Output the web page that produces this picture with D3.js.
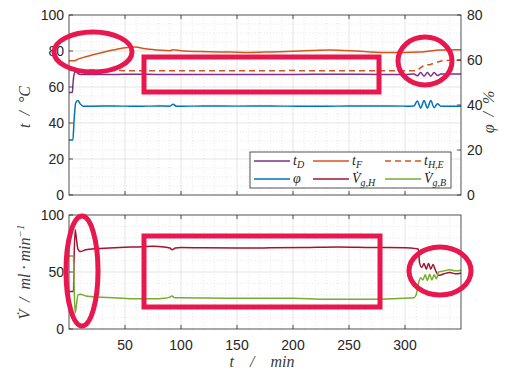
<!DOCTYPE html>
<html><head><meta charset="utf-8">
<script src="https://cdn.jsdelivr.net/npm/d3@7"></script>
<style>body{margin:0;background:#fff}svg{display:block}</style>
</head><body>
<script>
// ---- data ----
const xTicks = [50,100,150,200,250,300];
const yTopLeftTicks = [0,20,40,60,80,100];
const yTopRightTicks = [0,20,40,60,80];
const yBotTicks = [0,50,100];

const tD_t = [0,3,3.6,4.5,6,8,10,20,40,60,80,100,130,160,200,240,280,300,308,311,314,317,320,323,326,329,332,340,350];
const tD_v = [57,57,62,67,68.5,67.5,67,67,67,67.1,67,67,66.9,67,67,67.1,67,67,67.2,66.2,68,66,68,66,68,66.4,67.2,67.2,67.2];

const tF_t = [0,5,8,15,28,39,50,59,68,80,90,93,100,117,144,161,180,200,233,260,286,313,322,330,340,350];
const tF_v = [74.6,74.6,75.5,76.8,78.9,80.5,81.8,82.2,81.2,80.5,80.1,80.7,80.2,79.7,79.4,79.2,79.5,79.9,80.5,79.8,79.1,79.4,80,80.5,80.6,80.7];

const tHE_t = [0,10,30,60,100,150,200,250,300,310,314,318,322,326,330,334,340,350];
const tHE_v = [69.5,69.5,69.3,69,69,69,69.1,69,69,69,70.8,72.2,72.4,73.2,74,74.6,74.8,74.8];

const phi_t = [0,3.5,4.5,6,8,10,13,20,40,60,80,90,93,96,120,150,180,210,240,270,300,308,311,314,317,320,323,326,329,332,340,350];
const phi_v = [24.4,24.4,33,41,42,40.5,39.5,39.5,39.6,39.4,39.6,39.5,40.3,39.4,39.6,39.5,39.6,39.4,39.5,39.6,39.5,39.6,41.8,38.6,42,38.6,42,38.8,40.6,39.5,39.5,39.5];

const vH_t = [0,4,4.5,5.5,6.5,8,10,15,25,45,60,75,85,90,92,95,100,120,150,180,210,240,270,300,310,312,313,315,317,319,321,323,325,327,330,335,340,345,350];
const vH_v = [33,33,60,87,80,70,68,69.5,70.5,71.5,72,72.5,72,71,69.5,71,71.5,71.2,71,71.2,71.5,72,71.5,71.3,70.5,70,58,54,57.5,52.5,57.5,52.5,56.5,52,47,48.5,49.5,48.5,49];

const vB_t = [0,4,4.5,5.5,6.5,8,10,15,25,40,60,75,85,90,92,94,100,150,200,230,260,290,300,308,310,312,314,316,318,320,322,324,326,328,330,335,340,345,350];
const vB_v = [64,64,40,14,20,30,30.5,29,28,27.5,26.5,26.5,27,28,29,27.5,27.5,27,27,26,26,26.5,27,27.5,30,40,45,43,47.5,42.5,48,43,47.5,44,50,51,52,51,51.5];

const legendLabels = [["t","D"],["t","F"],["t","H,E"],["φ",""],["V̇","g,H"],["V̇","g,B"]];

// ---- drawing ----
const W=505,H=376;
const svg=d3.select("body").append("svg").attr("width",W).attr("height",H);
const x=d3.scaleLinear([0,350],[69,461]);
const yL=d3.scaleLinear([0,100],[195,15]);
const yR=d3.scaleLinear([0,80],[195,15]);
const yB=d3.scaleLinear([0,100],[329,215]);
const gridC="#dedede", axC="#262626";
const tickFont="'Liberation Sans', Arial, sans-serif";
const serif="'Liberation Serif','Times New Roman',serif";

function panel(yS, yMajor, yMinorStep, yMax){
  const g=svg.append("g");
  const [y0,y1]=yS.range();
  for(let v=10; v<350; v+=10){ if(v%50) g.append("line").attr("x1",x(v)).attr("x2",x(v)).attr("y1",y0).attr("y2",y1).attr("stroke","#e2e2e2").attr("stroke-dasharray","1,2").attr("stroke-width",0.8);}
  for(let v=yMinorStep; v<yMax; v+=yMinorStep){ if(!yMajor.includes(v)) g.append("line").attr("x1",69).attr("x2",461).attr("y1",yS(v)).attr("y2",yS(v)).attr("stroke","#e2e2e2").attr("stroke-dasharray","1,2").attr("stroke-width",0.8);}
  xTicks.forEach(v=>g.append("line").attr("x1",x(v)).attr("x2",x(v)).attr("y1",y0).attr("y2",y1).attr("stroke",gridC).attr("stroke-width",0.8));
  yMajor.forEach(v=>{ if(v>0&&v<yMax) g.append("line").attr("x1",69).attr("x2",461).attr("y1",yS(v)).attr("y2",yS(v)).attr("stroke",gridC).attr("stroke-width",0.8);});
  return g;
}
panel(yL,yTopLeftTicks,5,100);
panel(yB,yBotTicks,10,100);

function axesFrame(yS){
  const [y0,y1]=yS.range();
  svg.append("rect").attr("x",69).attr("y",y1).attr("width",392).attr("height",y0-y1).attr("fill","none").attr("stroke",axC).attr("stroke-width",0.8);
  xTicks.forEach(v=>{
    svg.append("line").attr("x1",x(v)).attr("x2",x(v)).attr("y1",y0).attr("y2",y0-4).attr("stroke",axC).attr("stroke-width",0.8);
    svg.append("line").attr("x1",x(v)).attr("x2",x(v)).attr("y1",y1).attr("y2",y1+4).attr("stroke",axC).attr("stroke-width",0.8);
  });
}

const line=(ys)=>d3.line().x(d=>x(d[0])).y(d=>ys(d[1])).curve(d3.curveMonotoneX);
const zip=(a,b)=>a.map((t,i)=>[t,b[i]]);
const cPurple="#7E2F8E", cOrange="#D95319", cBlue="#0072BD", cRed="#A2142F", cGreen="#77AC30";

svg.append("path").datum(zip(phi_t,phi_v)).attr("d",line(yR)).attr("fill","none").attr("stroke",cBlue).attr("stroke-width",1.5);
svg.append("path").datum(zip(tD_t,tD_v)).attr("d",line(yL)).attr("fill","none").attr("stroke",cPurple).attr("stroke-width",1.5);
svg.append("path").datum(zip(tF_t,tF_v)).attr("d",line(yL)).attr("fill","none").attr("stroke",cOrange).attr("stroke-width",1.5);
svg.append("path").datum(zip(tHE_t,tHE_v)).attr("d",line(yL)).attr("fill","none").attr("stroke",cOrange).attr("stroke-width",1.5).attr("stroke-dasharray","6,4");
svg.append("path").datum(zip(vH_t,vH_v)).attr("d",line(yB)).attr("fill","none").attr("stroke",cRed).attr("stroke-width",1.5);
svg.append("path").datum(zip(vB_t,vB_v)).attr("d",line(yB)).attr("fill","none").attr("stroke",cGreen).attr("stroke-width",1.5);

axesFrame(yL); axesFrame(yB);

function yTicksDraw(ys, ticks, side){
  ticks.forEach(v=>{
    const xx= side==="L"?69:461, d= side==="L"?4:-4;
    svg.append("line").attr("x1",xx).attr("x2",xx+d).attr("y1",ys(v)).attr("y2",ys(v)).attr("stroke",axC).attr("stroke-width",0.8);
    svg.append("text").attr("x",side==="L"?64:467).attr("y",ys(v)).attr("dy","0.36em")
      .attr("text-anchor",side==="L"?"end":"start").attr("font-family",tickFont).attr("font-size",14).attr("fill",axC).text(v);
  });
}
yTicksDraw(yL,yTopLeftTicks,"L");
yTicksDraw(yR,yTopRightTicks,"R");
yTicksDraw(yB,yBotTicks,"L");
xTicks.forEach(v=>svg.append("text").attr("x",x(v)).attr("y",350).attr("text-anchor","middle").attr("font-family",tickFont).attr("font-size",14).attr("fill",axC).text(v));

function rotLabel(cx,cy,build){
  const t=svg.append("text").attr("transform",`translate(${cx},${cy}) rotate(-90)`).attr("text-anchor","middle")
    .attr("font-family",serif).attr("font-style","italic").attr("font-size",16).attr("fill","#3a3a3a").attr("xml:space","preserve");
  build(t);
}
rotLabel(30,107,t=>t.text("t  /  °C"));
rotLabel(494,112,t=>t.text("φ  /  %"));
rotLabel(30,272,t=>{t.append("tspan").text("V̇  /  ml · min"); t.append("tspan").attr("dy",-6).attr("font-size",11).text("−1");});
svg.append("text").attr("x",262).attr("y",367).attr("text-anchor","middle").attr("font-family",serif).attr("font-style","italic").attr("font-size",16).attr("fill","#3a3a3a").attr("xml:space","preserve").text("t    /    min");

const lg=svg.append("g");
lg.append("rect").attr("x",250).attr("y",152).attr("width",201).attr("height",36).attr("fill","#fff").attr("stroke",axC).attr("stroke-width",0.8);
const legStyles=[[cPurple,null],[cOrange,null],[cOrange,"6,4"],[cBlue,null],[cRed,null],[cGreen,null]];
const colX=[254,313,385], rowY=[161,179];
legendLabels.forEach((lab,i)=>{
  const cx=colX[i%3], cy=rowY[Math.floor(i/3)];
  lg.append("line").attr("x1",cx).attr("x2",cx+36).attr("y1",cy).attr("y2",cy).attr("stroke",legStyles[i][0]).attr("stroke-width",1.5).attr("stroke-dasharray",legStyles[i][1]);
  const t=lg.append("text").attr("x",cx+39).attr("y",cy+4).attr("font-family",serif).attr("font-style","italic").attr("font-size",14).attr("fill",axC);
  t.append("tspan").text(lab[0]);
  if(lab[1]) t.append("tspan").attr("dy",3).attr("font-size",10).text(lab[1]);
});

const red="#E8174E";
const ann=svg.append("g").attr("fill","none").attr("stroke",red).attr("stroke-width",5);
ann.append("ellipse").attr("cx",93).attr("cy",52).attr("rx",39).attr("ry",20);
ann.append("rect").attr("x",144).attr("y",57).attr("width",235).attr("height",35);
ann.append("ellipse").attr("cx",425).attr("cy",61).attr("rx",27).attr("ry",24);
ann.append("ellipse").attr("cx",82).attr("cy",271).attr("rx",16).attr("ry",55);
ann.append("rect").attr("x",144).attr("y",236).attr("width",236).attr("height",71);
ann.append("ellipse").attr("cx",440).attr("cy",271).attr("rx",31).attr("ry",24);
</script>
</body></html>
